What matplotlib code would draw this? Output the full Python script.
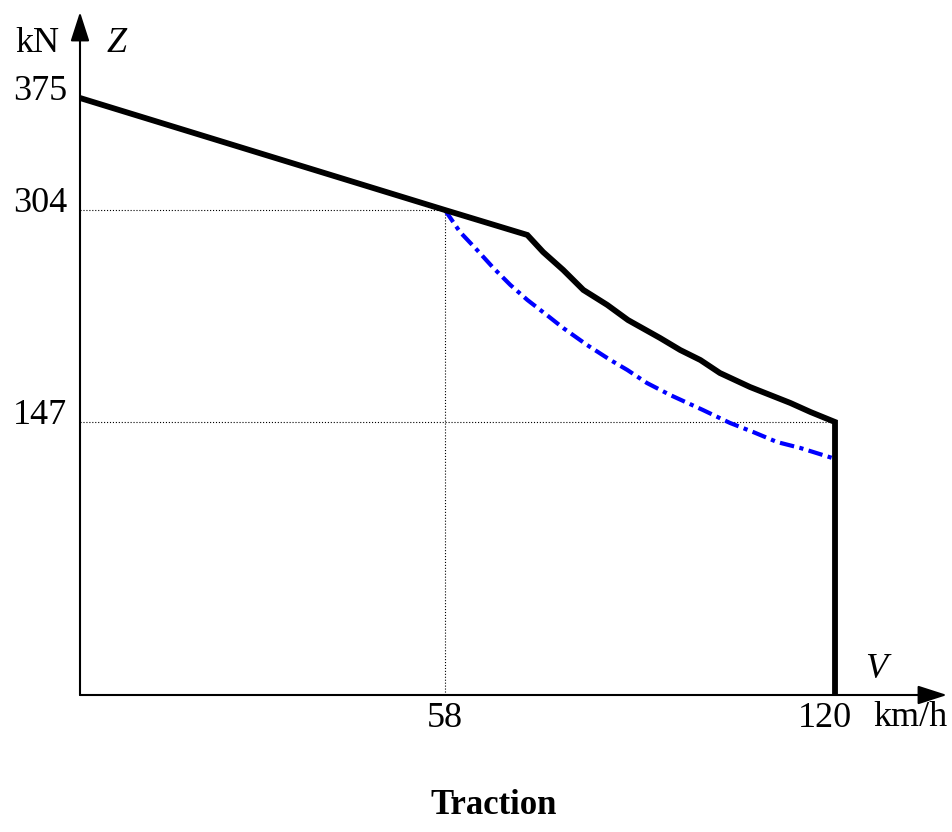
import numpy as np
import matplotlib.pyplot as plt

plt.rcParams['font.family'] = ['Liberation Serif', 'DejaVu Serif']

# Traction force Z (kN) vs speed V (km/h)
v_full = [0, 58, 71.1, 73.6, 76.8, 80.0, 83.8, 87.1, 92.2, 95.4, 98.6, 101.7,
          106.5, 109.7, 112.9, 116.1, 120, 120]
z_full = [375, 304, 285.5, 272.9, 259.6, 244.8, 233.7, 222.5, 209.2, 200.3, 192.9, 183.3,
          172.9, 167.0, 161.1, 154.4, 147, 0]

v_red = [58, 60.4, 63.1, 65.7, 68.4, 71.1, 74.2, 76.8, 80.6, 84.3, 87.0, 90.1,
         93.8, 99.0, 103.3, 107.0, 110.8, 114.5, 119.6]
z_red = [304, 287.7, 274.4, 261.1, 248.5, 237.4, 226.2, 216.6, 204.0, 192.9, 185.5, 175.9,
         167.0, 155.9, 146.5, 141.6, 136.2, 133.0, 127.6]

y_marks = [375, 304, 147]
x_marks = [58, 120]

# the sketch is not drawn to scale in Z: piecewise mapping of values to drawn height
z_knots = [0, 147, 304, 375, 500]
h_knots = [0, 273, 485, 597, 597 + 125 * 112 / 71]


def fwd(v):
    return np.interp(v, z_knots, h_knots)


def inv(h):
    return np.interp(h, h_knots, z_knots)


fig = plt.figure(figsize=(9.53, 8.32), dpi=100)
ax = fig.add_axes([80 / 953, 137 / 832, (947 - 80) / 953, (695 - 12) / 832])
ax.set_yscale('function', functions=(fwd, inv))
ax.set_xlim(0, 137.8)
ax.set_ylim(0, inv(683))
for s in ax.spines.values():
    s.set_visible(False)
ax.set_xticks([])
ax.set_yticks([])
ax.minorticks_off()

# axes with arrows
arr = dict(arrowstyle='-|>,head_length=1.8,head_width=0.58', color='black', lw=1.5,
           shrinkA=0, shrinkB=0)
ax.annotate('', xy=(0, 1), xytext=(0, 0), xycoords='axes fraction', arrowprops=arr)
ax.annotate('', xy=(1, 0), xytext=(0, 0), xycoords='axes fraction', arrowprops=arr)

# dotted guides
ax.plot([0, 58], [304, 304], ls=':', color='black', lw=0.8)
ax.plot([58, 58], [0, 304], ls=':', color='black', lw=0.8)
ax.plot([0, 120], [147, 147], ls=':', color='black', lw=0.8)

ax.plot(v_red, z_red, color='#0000ff', lw=3.0, ls=(0, (3.5, 1.3, 1, 1.3)))
ax.plot(v_full, z_full, color='black', lw=4.2, solid_joinstyle='miter')

fs = 26
for y in y_marks:
    ax.annotate(str(y), xy=(0, y), xycoords=('axes fraction', 'data'),
                xytext=(-9, 5), textcoords='offset points', ha='right', va='center',
                fontsize=fs)
ax.annotate('58', xy=(58, 0), xycoords=('data', 'axes fraction'),
            xytext=(0, -17), textcoords='offset points', ha='center', va='center', fontsize=fs)
ax.annotate('120', xy=(120, 0), xycoords=('data', 'axes fraction'),
            xytext=(-7, -17), textcoords='offset points', ha='center', va='center', fontsize=fs)
fig.text(910 / 953, 1 - 718 / 832, 'km/h', ha='center', va='center', fontsize=fs)
fig.text(37 / 953, 1 - 44 / 832, 'kN', ha='center', va='center', fontsize=fs)
fig.text(117 / 953, 1 - 44 / 832, 'Z', ha='center', va='center', fontsize=fs, style='italic')
fig.text(876 / 953, 1 - 670 / 832, 'V', ha='center', va='center', fontsize=fs, style='italic')
fig.text(494 / 953, 1 - 806 / 832, 'Traction', ha='center', va='center', fontsize=25,
         fontweight='bold')

fig.savefig('out.png', dpi=100)
